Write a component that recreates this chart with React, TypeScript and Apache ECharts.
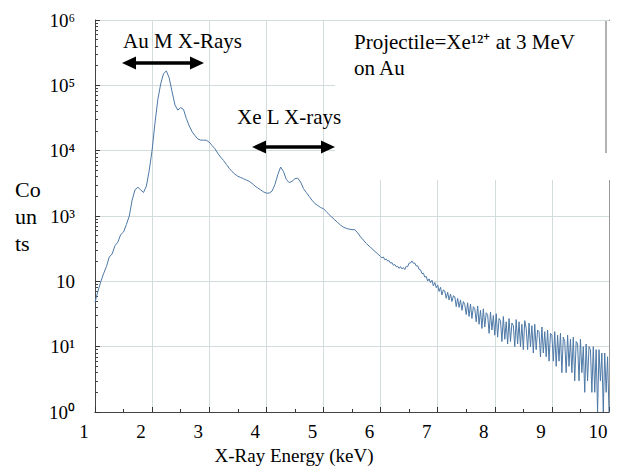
import React, { useEffect, useRef } from "react";
import * as echarts from "echarts";

// Spectrum, low-energy part: channels every 0.05 keV starting at 1.00 keV
const lowStart = 1.0;
const lowStep = 0.05;
const lowCounts = [
  48, 70, 98, 131, 168, 236, 262, 352, 398, 520, 570, 742, 1000, 1740, 2510, 2750, 2510, 2290, 2880, 5010,
  10200, 26300, 60300, 105000, 151000, 166000, 129000, 79400, 50100, 41700, 45700, 42700, 30900, 24000, 19500, 17000, 15100, 14500, 14500, 14400,
  13500, 12000, 10700, 9120, 7940, 7080, 6170, 5370, 4790, 4370, 4070, 3890, 3720, 3550, 3390, 3160, 2880, 2690, 2510, 2340,
  2240, 2240, 2400, 3020, 4270, 5620, 4790, 3630, 3240, 3390, 3720, 3800, 3310, 2630, 2290, 2000, 1740, 1550, 1450, 1350,
  1290, 1170, 1050, 955, 871, 794, 724, 676, 646, 631, 617, 617, 550, 479, 427, 380, 347, 316, 288, 263,
];

// Spectrum, high-energy part: channels every 0.025 keV starting at 6.000 keV
const highStart = 6.0;
const highStep = 0.025;
const highCounts = [
  240, 228, 236, 214, 219, 205, 207, 190,
  193, 176, 181, 167, 170, 158, 168, 155,
  163, 152, 170, 168, 190, 191, 205, 189,
  190, 172, 173, 152, 150, 131, 133, 116,
  119, 101, 109, 95, 104, 85, 96, 80,
  88, 70, 81, 62, 74, 71, 55, 68,
  52, 64, 49, 60, 58, 41, 55, 40,
  52, 36, 49, 44, 31, 47, 29, 45,
  27, 41, 38, 24, 42, 22, 36, 19,
  38, 20, 33, 31, 16, 34, 18, 30,
  15, 32, 14, 27, 25, 12, 29, 13,
  24, 11, 27, 12, 23, 21, 10, 26,
  11, 24, 10, 22, 9, 25, 19, 9,
  23, 10, 21, 8, 22, 9, 18, 17,
  7, 20, 8, 17, 7, 18, 6, 16,
  15, 6, 17, 5, 15, 6, 16, 4,
  14, 12, 4, 15, 5, 13, 4, 14,
  3, 12, 11, 3, 13, 4, 10, 2,
  11, 3, 10, 9, 2, 10, 2, 9,
  1, 9, 3, 8, 1, 8, 2, 7,
  1,
];

const xTickLabels = ["1", "2", "3", "4", "5", "6", "7", "8", "9", "10"];
const yTickValues = [1, 10, 100, 1000, 10000, 100000, 1000000];
const yTickLabels = ["10⁰", "10¹", "10", "10³", "10⁴", "10⁵", "10⁶"];

const SERIF = "serif";

export default function App() {
  const ref = useRef<HTMLDivElement>(null);

  useEffect(() => {
    if (!ref.current) return;
    const chart = echarts.init(ref.current, null, { renderer: "svg" });

    const spectrum: [number, number][] = [];
    lowCounts.forEach((c, i) => spectrum.push([+(lowStart + i * lowStep).toFixed(3), c]));
    highCounts.forEach((c, i) => spectrum.push([+(highStart + i * highStep).toFixed(3), c]));

    const gridLine = { color: "#d3dcdc", width: 1 };

    chart.setOption({
      animation: false,
      grid: { left: 95, right: 9, top: 20, bottom: 63 },
      xAxis: [
        {
          type: "value",
          position: "top",
          min: 1,
          max: 10,
          interval: 1,
          axisLine: { show: true, lineStyle: { color: "#999", width: 1 } },
          axisTick: { show: false },
          axisLabel: { show: false },
          splitLine: { show: true, lineStyle: gridLine },
        },
        {
          type: "value",
          position: "bottom",
          min: 1,
          max: 10,
          interval: 1,
          axisLine: { show: true, lineStyle: { color: "#444", width: 1 } },
          axisTick: { show: true, inside: true, length: 5, lineStyle: { color: "#333", width: 1 } },
          minorTick: { show: true, splitNumber: 2, length: 3, lineStyle: { color: "#333", width: 1 } },
          splitLine: { show: false },
          axisLabel: {
            color: "#000",
            fontFamily: SERIF,
            fontSize: 19,
            margin: 10,
            padding: [0, 22, 0, 0],
            formatter: (v: number) => xTickLabels[Math.round(v) - 1] ?? "",
          },
          name: "X-Ray Energy (keV)",
          nameLocation: "middle",
          nameGap: 34,
          nameTextStyle: {
            color: "#000",
            fontFamily: SERIF,
            fontSize: 19,
            padding: [0, 116, 0, 0],
          },
        },
      ],
      yAxis: [
        {
          type: "log",
          logBase: 10,
          position: "left",
          min: 1,
          max: 1000000,
          axisLine: { show: true, lineStyle: { color: "#444", width: 1 } },
          axisTick: { show: true, inside: true, length: 5, lineStyle: { color: "#333", width: 1 } },
          minorTick: { show: true, splitNumber: 9, length: 3, lineStyle: { color: "#444", width: 1 } },
          splitLine: { show: true, lineStyle: gridLine },
          axisLabel: {
            margin: 20,
            color: "#000",
            fontFamily: SERIF,
            fontSize: 19,
            formatter: (v: number) => {
              const i = yTickValues.findIndex((t) => Math.abs(Math.log10(t) - Math.log10(v)) < 1e-6);
              return i >= 0 ? yTickLabels[i] : "";
            },
          },
          name: "Co\nun\nts",
          nameLocation: "middle",
          nameRotate: 0,
          nameGap: 80,
          nameTextStyle: {
            color: "#000",
            fontFamily: SERIF,
            fontSize: 22,
            lineHeight: 27,
            align: "left",
            verticalAlign: "middle",
            padding: [0, 0, 10, 0],
          },
        },
        {
          type: "value",
          position: "right",
          min: 0,
          max: 6,
          interval: 1,
          axisLine: { show: true, lineStyle: { color: "#999", width: 1 } },
          axisTick: { show: false },
          axisLabel: { show: false },
          splitLine: { show: false },
        },
      ],
      series: [
        {
          type: "line",
          xAxisIndex: 1,
          yAxisIndex: 0,
          data: spectrum,
          showSymbol: false,
          symbol: "none",
          lineStyle: { color: "#4d78a6", width: 1 },
          z: 3,
          silent: true,
        },
      ],
      graphic: [
        {
          type: "rect",
          z: 1,
          silent: true,
          shape: { x: 335, y: 21, width: 276, height: 159 },
          style: { fill: "#fff" },
        },
        {
          type: "line",
          z: 2,
          silent: true,
          shape: { x1: 606, y1: 21, x2: 606, y2: 153 },
          style: { stroke: "#999", lineWidth: 1.5 },
        },
        {
          type: "text",
          z: 5,
          left: 123,
          top: 30,
          style: { text: "Au M X-Rays", fontFamily: SERIF, fontSize: 21, fill: "#000" },
        },
        {
          type: "line",
          z: 5,
          shape: { x1: 134, y1: 63, x2: 192, y2: 63 },
          style: { stroke: "#000", lineWidth: 3.5 },
        },
        {
          type: "polygon",
          z: 5,
          shape: { points: [[122, 63], [136, 56.5], [136, 69.5]] },
          style: { fill: "#000" },
        },
        {
          type: "polygon",
          z: 5,
          shape: { points: [[204, 63], [190, 56.5], [190, 69.5]] },
          style: { fill: "#000" },
        },
        {
          type: "text",
          z: 5,
          left: 237,
          top: 106,
          style: { text: "Xe L X-rays", fontFamily: SERIF, fontSize: 21, fill: "#000" },
        },
        {
          type: "line",
          z: 5,
          shape: { x1: 264, y1: 147, x2: 323, y2: 147 },
          style: { stroke: "#000", lineWidth: 3.5 },
        },
        {
          type: "polygon",
          z: 5,
          shape: { points: [[252, 147], [266, 140.5], [266, 153.5]] },
          style: { fill: "#000" },
        },
        {
          type: "polygon",
          z: 5,
          shape: { points: [[335, 147], [321, 140.5], [321, 153.5]] },
          style: { fill: "#000" },
        },
        {
          type: "text",
          z: 5,
          left: 354,
          top: 31,
          style: { text: "Projectile=Xe¹²⁺ at 3 MeV", fontFamily: SERIF, fontSize: 21, fill: "#000" },
        },
        {
          type: "text",
          z: 5,
          left: 354,
          top: 57,
          style: { text: "on Au", fontFamily: SERIF, fontSize: 21, fill: "#000" },
        },
      ],
    });

    return () => chart.dispose();
  }, []);

  return (
    <div
      ref={ref}
      style={{ position: "fixed", left: 0, top: 0, width: 618, height: 475, background: "#fff" }}
    />
  );
}
